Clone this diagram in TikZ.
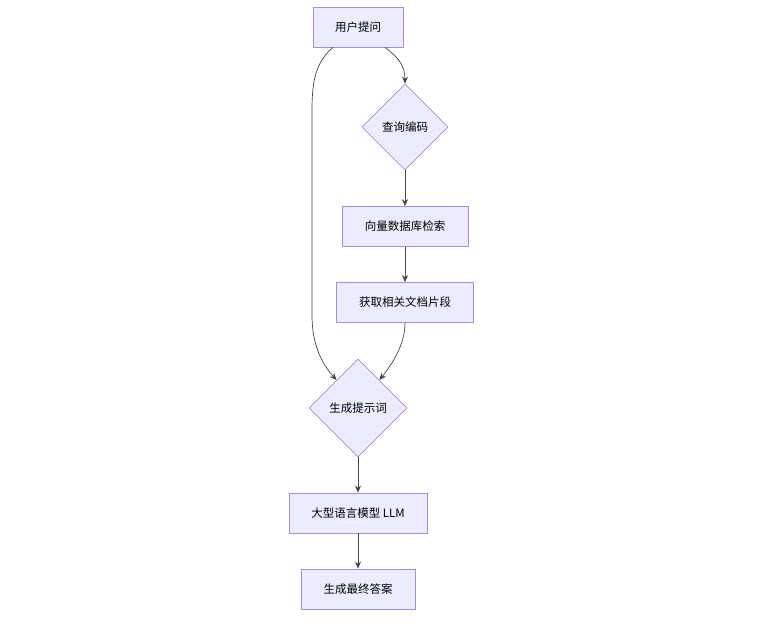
\documentclass[tikz,border=0pt]{standalone}
\usepackage{fontspec}
\newfontfamily\cjk{Noto Sans CJK SC}
\usepackage{tikz}
\usetikzlibrary{arrows.meta,shapes.geometric}

\definecolor{nodefill}{HTML}{ECECFF}
\definecolor{nodeline}{HTML}{A58BE3}
\definecolor{edgeline}{HTML}{444444}

\tikzset{
    box/.style={draw=nodeline, fill=nodefill, line width=0.8pt, minimum height=40pt, inner sep=0pt,
        font=\cjk\fontsize{11.5}{14}\selectfont},
    choice/.style={diamond, aspect=1, draw=nodeline, fill=nodefill, line width=0.8pt, inner sep=0pt,
        font=\cjk\fontsize{11.5}{14}\selectfont},
    flow/.style={draw=edgeline, line width=0.7pt, -{Stealth[length=7pt,width=6pt]}}
}

\begin{document}
\begin{tikzpicture}[x=1pt,y=-1pt]

\useasboundingbox (0,0) rectangle (760,622);

\node [box, minimum width=90pt]  (ask)    at (358,27)    {用户提问};
\node [choice, minimum size=86pt] (encode) at (405,127)   {查询编码};
\node [box, minimum width=126pt] (search) at (405,226.5) {向量数据库检索};
\node [box, minimum width=137pt] (chunks) at (405,302.5) {获取相关文档片段};
\node [choice, minimum size=98pt] (prompt) at (358,408)   {生成提示词};
\node [box, minimum width=138pt] (llm)    at (358,513)   {大型语言模型 LLM};
\node [box, minimum width=114pt] (answer) at (358,589)   {生成最终答案};

% straight links
\draw [flow] (encode.south) -- (search.north);
\draw [flow] (search.south) -- (chunks.north);
\draw [flow] (prompt.south) -- (llm.north);
\draw [flow] (llm.south) -- (answer.north);

% curved links
\draw [flow] ([xshift=27pt]ask.south) .. controls (399,58) and (405,66) .. (encode.north);
\draw [flow] ([xshift=-25pt]ask.south) .. controls (316,62) and (312,80) .. (312,110)
    -- (312,315) .. controls (312,348) and (324,366) .. (336.5,380);
\draw [flow] (chunks.south) .. controls (405,345) and (392,364) .. (379.5,380);

\end{tikzpicture}
\end{document}
